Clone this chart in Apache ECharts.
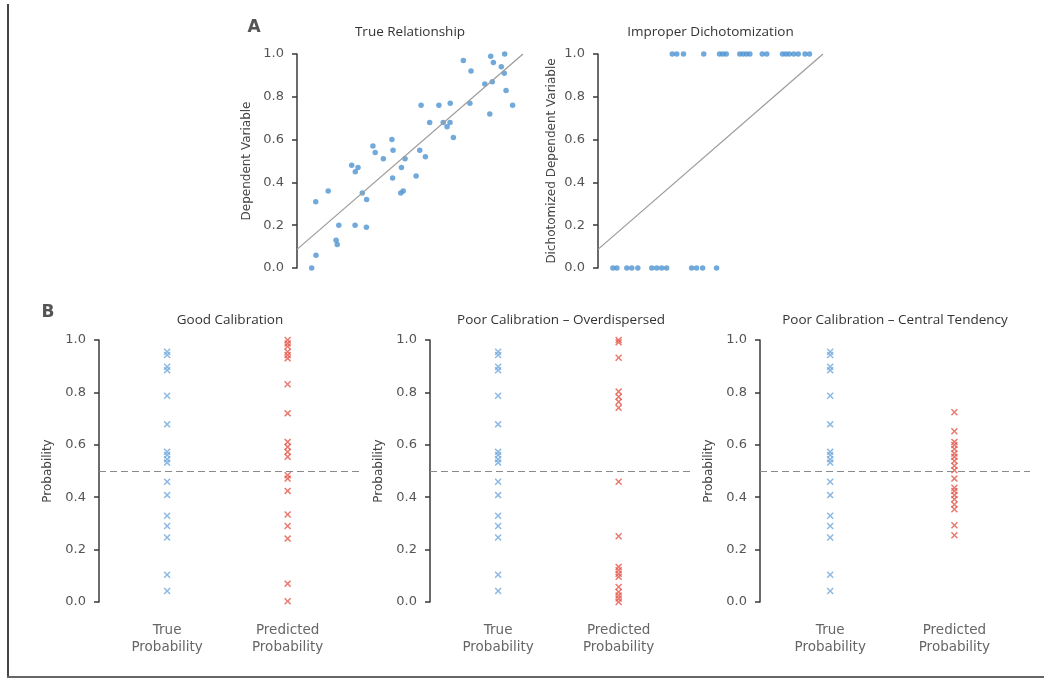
<!DOCTYPE html>
<html>
<head>
<meta charset="utf-8">
<script src="https://cdn.jsdelivr.net/npm/echarts@6/dist/echarts.min.js"></script>
<style>
html, body { margin: 0; padding: 0; background: #fff; }
#chart { width: 1044px; height: 681px; }
</style>
</head>
<body>
<div id="chart"></div>
<script>
// A - true relationship: position along the x direction and dependent variable
const relX = [0.065, 0.084, 0.083, 0.138, 0.173, 0.178, 0.185, 0.242, 0.258, 0.270, 0.257, 0.289,
    0.308, 0.307, 0.336, 0.346, 0.382, 0.420, 0.425, 0.423, 0.462, 0.478, 0.459, 0.470,
    0.527, 0.543, 0.568, 0.549, 0.587, 0.628, 0.647, 0.664, 0.678, 0.677, 0.692, 0.736,
    0.770, 0.765, 0.831, 0.853, 0.864, 0.857, 0.869, 0.919, 0.904, 0.917, 0.925, 0.954];
const relY = [0.00, 0.06, 0.31, 0.36, 0.13, 0.11, 0.20, 0.48, 0.45, 0.47, 0.20, 0.35,
    0.32, 0.19, 0.57, 0.54, 0.51, 0.60, 0.55, 0.42, 0.47, 0.51, 0.35, 0.36,
    0.43, 0.55, 0.52, 0.76, 0.68, 0.76, 0.68, 0.66, 0.77, 0.68, 0.61, 0.97,
    0.92, 0.77, 0.86, 0.72, 0.87, 0.99, 0.96, 1.00, 0.94, 0.91, 0.83, 0.76];
// fitted line end points (same in both A panels)
const fitLine = [[0, 0.087], [1, 1.0]];

// A - improper dichotomization: x positions of the points at 1 and at 0
const dichoHighX = [0.33, 0.35, 0.38, 0.47, 0.54, 0.555, 0.57, 0.63, 0.645, 0.66, 0.675,
    0.73, 0.75, 0.82, 0.835, 0.85, 0.87, 0.89, 0.92, 0.94];
const dichoLowX = [0.066, 0.084, 0.128, 0.15, 0.177, 0.239, 0.261, 0.283, 0.305,
    0.416, 0.438, 0.465, 0.527];
const dichoHigh = 1;
const dichoLow = 0;

// B - calibration panels
const groupPos = [0.26, 0.72];
const groupLabels = ['True\nProbability', 'Predicted\nProbability'];
const trueProb = [0.955, 0.943, 0.898, 0.885, 0.787, 0.678, 0.573, 0.561, 0.545, 0.532,
    0.459, 0.408, 0.329, 0.290, 0.246, 0.104, 0.042];
const predGood = [1.0, 0.987, 0.975, 0.955, 0.943, 0.930, 0.831, 0.720, 0.611, 0.592, 0.573,
    0.554, 0.484, 0.471, 0.424, 0.334, 0.290, 0.242, 0.070, 0.003];
const predOver = [1.0, 0.991, 0.932, 0.803, 0.783, 0.764, 0.741, 0.459, 0.251, 0.134, 0.121,
    0.108, 0.096, 0.057, 0.038, 0.025, 0.013, 0.0];
const predCentral = [0.724, 0.652, 0.611, 0.599, 0.584, 0.567, 0.554, 0.538, 0.520, 0.503,
    0.471, 0.436, 0.424, 0.408, 0.392, 0.372, 0.354, 0.293, 0.255];
const threshold = 0.5;

const panelTitles = ['True Relationship', 'Improper Dichotomization', 'Good Calibration',
    'Poor Calibration \u2013 Overdispersed', 'Poor Calibration \u2013 Central Tendency'];

const FONT = 'DejaVu Sans';
const BLUE_DOT = '#4f93d2';
const BLUE_X = '#6fa8dc';
const RED_X = '#e5574b';
const CROSS = 'path://M0,1.5L1.5,0L5,3.5L8.5,0L10,1.5L6.5,5L10,8.5L8.5,10L5,6.5L1.5,10L0,8.5L3.5,5Z';

const grids = [
    {left: 297, top: 54, width: 226, height: 214},
    {left: 598, top: 54, width: 225, height: 214},
    {left: 99, top: 340, width: 262, height: 262},
    {left: 430, top: 340, width: 262, height: 262},
    {left: 760, top: 340, width: 270, height: 262}
];

function yAxisFor(i, name, gap){
    return {
        gridIndex: i, type: 'value', min: 0, max: 1, interval: 0.2,
        axisLine: {show: true, lineStyle: {color: '#3a3a3a', width: 1.5}},
        axisTick: {show: true, length: 5, lineStyle: {color: '#3a3a3a', width: 1.5}},
        axisLabel: {color: '#555', fontSize: 13, fontFamily: FONT, margin: 13,
            formatter: v => v.toFixed(1)},
        splitLine: {show: false},
        name: name, nameLocation: 'middle', nameGap: gap,
        nameTextStyle: {color: '#444', fontSize: 12, fontFamily: FONT}
    };
}

function xAxisPlain(i){
    return {gridIndex: i, type: 'value', min: 0, max: 1, show: false};
}

function xAxisGroups(i){
    return {
        gridIndex: i, type: 'value', min: 0, max: 1, interval: 0.02,
        axisLine: {show: false}, axisTick: {show: false}, splitLine: {show: false},
        axisLabel: {
            color: '#666', fontSize: 13.5, fontFamily: FONT, margin: 20, lineHeight: 17,
            formatter: v => {
                for (let k = 0; k < groupPos.length; k++) {
                    if (Math.abs(v - groupPos[k]) < 1e-6) return groupLabels[k];
                }
                return '';
            }
        }
    };
}

function dots(i, data){
    return {type: 'scatter', xAxisIndex: i, yAxisIndex: i, data: data, symbolSize: 5.5,
        clip: false, itemStyle: {color: BLUE_DOT}};
}

function fit(i){
    return {type: 'line', xAxisIndex: i, yAxisIndex: i, data: fitLine, symbol: 'none',
        lineStyle: {color: '#a09d9a', width: 1.3}};
}

function crosses(i, pos, vals, color, withRef){
    const s = {type: 'scatter', xAxisIndex: i, yAxisIndex: i, symbol: CROSS, symbolSize: 7,
        clip: false, itemStyle: {color: color},
        data: vals.map(v => [pos, v])};
    if (withRef) {
        s.markLine = {silent: true, symbol: 'none', label: {show: false},
            lineStyle: {color: '#8a8a8a', type: [7, 4], width: 1},
            data: [{yAxis: threshold}]};
    }
    return s;
}

const graphic = [
    {type: 'line', shape: {x1: 8, y1: 4, x2: 8, y2: 677}, style: {stroke: '#444', lineWidth: 2}},
    {type: 'line', shape: {x1: 7, y1: 677, x2: 1044, y2: 677}, style: {stroke: '#666', lineWidth: 2}},
    {type: 'text', x: 254, y: 28, style: {text: 'A', font: 'bold 17px DejaVu Sans', fill: '#555',
        textAlign: 'center', textVerticalAlign: 'middle'}},
    {type: 'text', x: 48, y: 313, style: {text: 'B', font: 'bold 17px DejaVu Sans', fill: '#555',
        textAlign: 'center', textVerticalAlign: 'middle'}}
];
const titleY = [32, 32, 320, 320, 320];
grids.forEach((g, i) => {
    graphic.push({type: 'text', x: g.left + g.width / 2, y: titleY[i],
        style: {text: panelTitles[i], font: '13.5px "Open Sans"', fill: '#333',
            textAlign: 'center', textVerticalAlign: 'middle'}});
});

const chart = echarts.init(document.getElementById('chart'));
chart.setOption({
    backgroundColor: '#fff',
    animation: false,
    grid: grids,
    xAxis: [xAxisPlain(0), xAxisPlain(1), xAxisGroups(2), xAxisGroups(3), xAxisGroups(4)],
    yAxis: [yAxisFor(0, 'Dependent Variable', 44), yAxisFor(1, 'Dichotomized Dependent Variable', 40),
        yAxisFor(2, 'Probability', 45), yAxisFor(3, 'Probability', 45), yAxisFor(4, 'Probability', 45)],
    graphic: graphic,
    series: [
        fit(0),
        dots(0, relX.map((x, k) => [x, relY[k]])),
        fit(1),
        dots(1, dichoHighX.map(x => [x, dichoHigh])),
        dots(1, dichoLowX.map(x => [x, dichoLow])),
        crosses(2, groupPos[0], trueProb, BLUE_X, true),
        crosses(2, groupPos[1], predGood, RED_X, false),
        crosses(3, groupPos[0], trueProb, BLUE_X, true),
        crosses(3, groupPos[1], predOver, RED_X, false),
        crosses(4, groupPos[0], trueProb, BLUE_X, true),
        crosses(4, groupPos[1], predCentral, RED_X, false)
    ]
});
</script>
</body>
</html>
